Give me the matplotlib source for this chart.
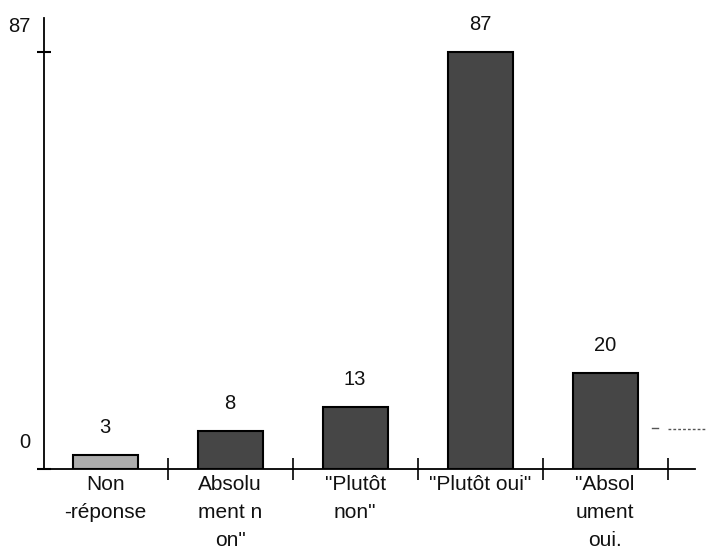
import matplotlib
matplotlib.use("Agg")
import matplotlib.pyplot as plt
from matplotlib.transforms import ScaledTranslation
from matplotlib.lines import Line2D

plt.rcParams['font.family'] = ['Liberation Sans', 'DejaVu Sans']

categories = ['Non\n-réponse', 'Absolu\nment n\non"', '"Plutôt\nnon"', '"Plutôt oui"', '"Absol\nument\noui.']
values = [3, 8, 13, 87, 20]
ytick_values = [0, 87]
ytick_labels = ['0', '87']

fig = plt.figure(figsize=(7.06, 5.5), dpi=100)
ax = fig.add_axes([44/706, 1 - 469/550, (695 - 44)/706, (469 - 18)/550])

colors = ['#adadad', '#464646', '#464646', '#464646', '#464646']
x = list(range(len(values)))
ax.bar(x, values, width=0.52, color=colors, edgecolor='black', linewidth=1.5)

for xi, v in zip(x, values):
    ax.annotate(str(v), (xi, v), xytext=(0, 13), textcoords='offset points',
                ha='center', va='bottom', fontsize=14.5, color='#111111')

ax.set_xlim(-0.49, 4.72)
ax.set_ylim(0, 94.1)

for s in ['top', 'right']:
    ax.spines[s].set_visible(False)
ax.spines['left'].set_linewidth(1.3)
ax.spines['bottom'].set_linewidth(1.3)

# x ticks at category boundaries, labels at centers
ax.set_xticks([i + 0.5 for i in x])
ax.set_xticklabels([])
ax.tick_params(axis='x', direction='inout', length=16, width=1.2)
for xi, lab in zip(x, categories):
    ax.annotate(lab, (xi, 0), xytext=(0, -4), textcoords='offset points',
                ha='center', va='top', fontsize=15, color='#111111',
                linespacing=1.62)

ax.set_yticks(ytick_values)
ax.set_yticklabels(ytick_labels, fontsize=14.5, color='#111111')
ax.tick_params(axis='y', direction='inout', length=10, width=1.5, pad=5)
off = ScaledTranslation(0, 28/100, fig.dpi_scale_trans)
for lab in ax.get_yticklabels():
    lab.set_transform(lab.get_transform() + off)

# stray scan mark at the right
fig.add_artist(Line2D([652/706, 658/706], [1 - 428/550] * 2, color='#555555', lw=1))
fig.add_artist(Line2D([668/706, 705/706], [1 - 429/550] * 2, color='#555555', lw=1, ls=(0, (2, 1.5))))

fig.savefig('out.png', dpi=100)
